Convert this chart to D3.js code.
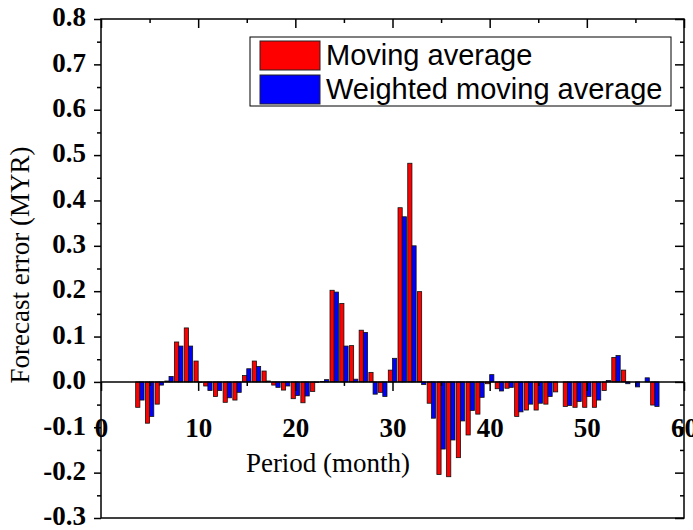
<!DOCTYPE html>
<html>
<head>
<meta charset="utf-8">
<script src="https://cdn.jsdelivr.net/npm/d3@7"></script>
<style>
  body { margin: 0; background: #fff; }
  svg { display: block; }
  .tick-label { font-family: "Times New Roman", "Liberation Serif", serif; font-weight: bold; font-size: 27px; fill: #000; }
  .axis-title { font-family: "Times New Roman", "Liberation Serif", serif; font-size: 27px; fill: #000; }
  .legend-text { font-family: Arial, "Liberation Sans", sans-serif; font-size: 29px; fill: #000; }
</style>
</head>
<body>
<svg id="chart" width="693" height="530"></svg>
<script>
// periods (months) and forecast errors
const periods = [4, 5, 6, 7, 8, 9, 10, 11, 12, 13, 14, 15, 16, 17, 18, 19, 20, 21, 22, 23, 24, 25, 26, 27, 28, 29, 30,
  31, 32, 33, 34, 35, 36, 37, 38, 39, 40, 41, 42, 43, 44, 45, 46, 47, 48, 49, 50, 51, 52, 53, 54, 55, 56, 57];
const movingAvg = [-0.056, -0.091, -0.049, 0.002, 0.088, 0.119, 0.046, -0.009, -0.032, -0.045, -0.040, 0.014,
  0.046, 0.024, -0.007, -0.018, -0.037, -0.046, -0.021, 0.001, 0.202, 0.173, 0.080, 0.114, 0.021, -0.023, 0.026,
  0.384, 0.482, 0.199, -0.047, -0.204, -0.209, -0.167, -0.117, -0.071, -0.004, -0.015, -0.014, -0.076, -0.062,
  -0.062, -0.049, -0.022, -0.054, -0.056, -0.056, -0.056, -0.019, 0.054, 0.026, 0.000, 0.000, -0.051];
const weightedAvg = [-0.040, -0.076, -0.007, 0.012, 0.079, 0.079, -0.001, -0.019, -0.019, -0.035, -0.023, 0.029,
  0.034, 0.002, -0.012, -0.009, -0.030, -0.031, -0.001, 0.005, 0.198, 0.079, 0.006, 0.109, -0.027, -0.032, 0.052,
  0.364, 0.300, -0.006, -0.080, -0.148, -0.128, -0.086, -0.063, -0.034, 0.016, -0.020, -0.012, -0.066, -0.049,
  -0.047, -0.032, 0.000, -0.052, -0.043, -0.032, -0.040, 0.003, 0.058, -0.004, -0.011, 0.009, -0.054];

const seriesNames = ["Moving average", "Weighted moving average"];
const seriesColors = ["#ff0000", "#0000ff"];

const xMajor = [0, 10, 20, 30, 40, 50, 60];
const xMinor = [5, 15, 25, 35, 45, 55];
const yMajor = [-0.3, -0.2, -0.1, 0.0, 0.1, 0.2, 0.3, 0.4, 0.5, 0.6, 0.7, 0.8];
const yMinor = [-0.25, -0.15, -0.05, 0.05, 0.15, 0.25, 0.35, 0.45, 0.55, 0.65, 0.75];

const plotL = 101, plotR = 684, plotT = 19, plotB = 518;

const svg = d3.select("#chart");

const x = d3.scaleLinear().domain([0, 60]).range([plotL, plotR]);
const y = d3.scaleLinear().domain([-0.3, 0.8]).range([plotB, plotT]);
// offset of each series inside one period
const sub = d3.scaleBand().domain(seriesNames).range([-4.2, 4.2]);

const fmt = d => (d < 0 ? "-" : "") + Math.abs(d).toFixed(1);

function styleAxis(g) {
    g.select(".domain").remove();
    g.selectAll(".tick line").attr("stroke", "#000").attr("stroke-width", 1.5);
}

// bars
const rows = periods.map((p, i) => ({ p, vals: [movingAvg[i], weightedAvg[i]] }));
const barG = svg.append("g");
seriesNames.forEach((name, k) => {
    barG.append("g")
        .selectAll("rect")
        .data(rows)
        .join("rect")
        .attr("x", d => x(d.p) + sub(name))
        .attr("width", sub.bandwidth())
        .attr("y", d => y(Math.max(0, d.vals[k])))
        .attr("height", d => Math.abs(y(d.vals[k]) - y(0)))
        .attr("fill", seriesColors[k])
        .attr("stroke", "#111")
        .attr("stroke-width", 0.8);
});

// frame
svg.append("rect")
    .attr("x", plotL).attr("y", plotT)
    .attr("width", plotR - plotL).attr("height", plotB - plotT)
    .attr("fill", "none").attr("stroke", "#000").attr("stroke-width", 1.5);

// left axis (ticks outward)
svg.append("g").attr("transform", `translate(${plotL},0)`)
    .call(d3.axisLeft(y).tickValues(yMajor).tickSize(7).tickPadding(8).tickFormat(fmt))
    .call(styleAxis)
    .call(g => g.selectAll("text").attr("class", "tick-label").attr("dy", "0.25em"));
svg.append("g").attr("transform", `translate(${plotL},0)`)
    .call(d3.axisLeft(y).tickValues(yMinor).tickSize(4).tickFormat(""))
    .call(styleAxis);

// right axis (ticks inward)
svg.append("g").attr("transform", `translate(${plotR},0)`)
    .call(d3.axisLeft(y).tickValues(yMajor).tickSize(9).tickFormat(""))
    .call(styleAxis);
svg.append("g").attr("transform", `translate(${plotR},0)`)
    .call(d3.axisLeft(y).tickValues(yMinor).tickSize(4).tickFormat(""))
    .call(styleAxis);

// top axis (ticks inward)
svg.append("g").attr("transform", `translate(0,${plotT})`)
    .call(d3.axisBottom(x).tickValues(xMajor).tickSize(9).tickFormat(""))
    .call(styleAxis);
svg.append("g").attr("transform", `translate(0,${plotT})`)
    .call(d3.axisBottom(x).tickValues(xMinor).tickSize(4).tickFormat(""))
    .call(styleAxis);

// x axis drawn on the zero line
const zeroY = y(0);
svg.append("line")
    .attr("x1", plotL).attr("x2", plotR)
    .attr("y1", zeroY).attr("y2", zeroY)
    .attr("stroke", "#000").attr("stroke-width", 1.5);
svg.append("g").attr("transform", `translate(0,${zeroY})`)
    .call(d3.axisBottom(x).tickValues(xMajor).tickSize(9).tickFormat(d3.format("d")))
    .call(styleAxis)
    .call(g => g.selectAll("text").attr("class", "tick-label").attr("y", 55).attr("dy", 0));
svg.append("g").attr("transform", `translate(0,${zeroY})`)
    .call(d3.axisBottom(x).tickValues(xMinor).tickSize(4).tickFormat(""))
    .call(styleAxis);

// axis titles
svg.append("text").attr("class", "axis-title")
    .attr("x", 328).attr("y", 472)
    .attr("text-anchor", "middle")
    .text("Period (month)");
svg.append("text").attr("class", "axis-title")
    .attr("transform", "translate(29,265) rotate(-90)")
    .attr("text-anchor", "middle")
    .text("Forecast error (MYR)");

// legend
const legend = svg.append("g");
legend.append("rect")
    .attr("x", 250).attr("y", 37).attr("width", 421).attr("height", 69)
    .attr("fill", "#fff").attr("stroke", "#000").attr("stroke-width", 1);
seriesNames.forEach((name, k) => {
    legend.append("rect")
        .attr("x", 260).attr("y", 41 + k * 34)
        .attr("width", 60).attr("height", 29)
        .attr("fill", seriesColors[k]).attr("stroke", "#222").attr("stroke-width", 1);
    legend.append("text").attr("class", "legend-text")
        .attr("x", 326).attr("y", 65 + k * 34)
        .text(name);
});
</script>
</body>
</html>
